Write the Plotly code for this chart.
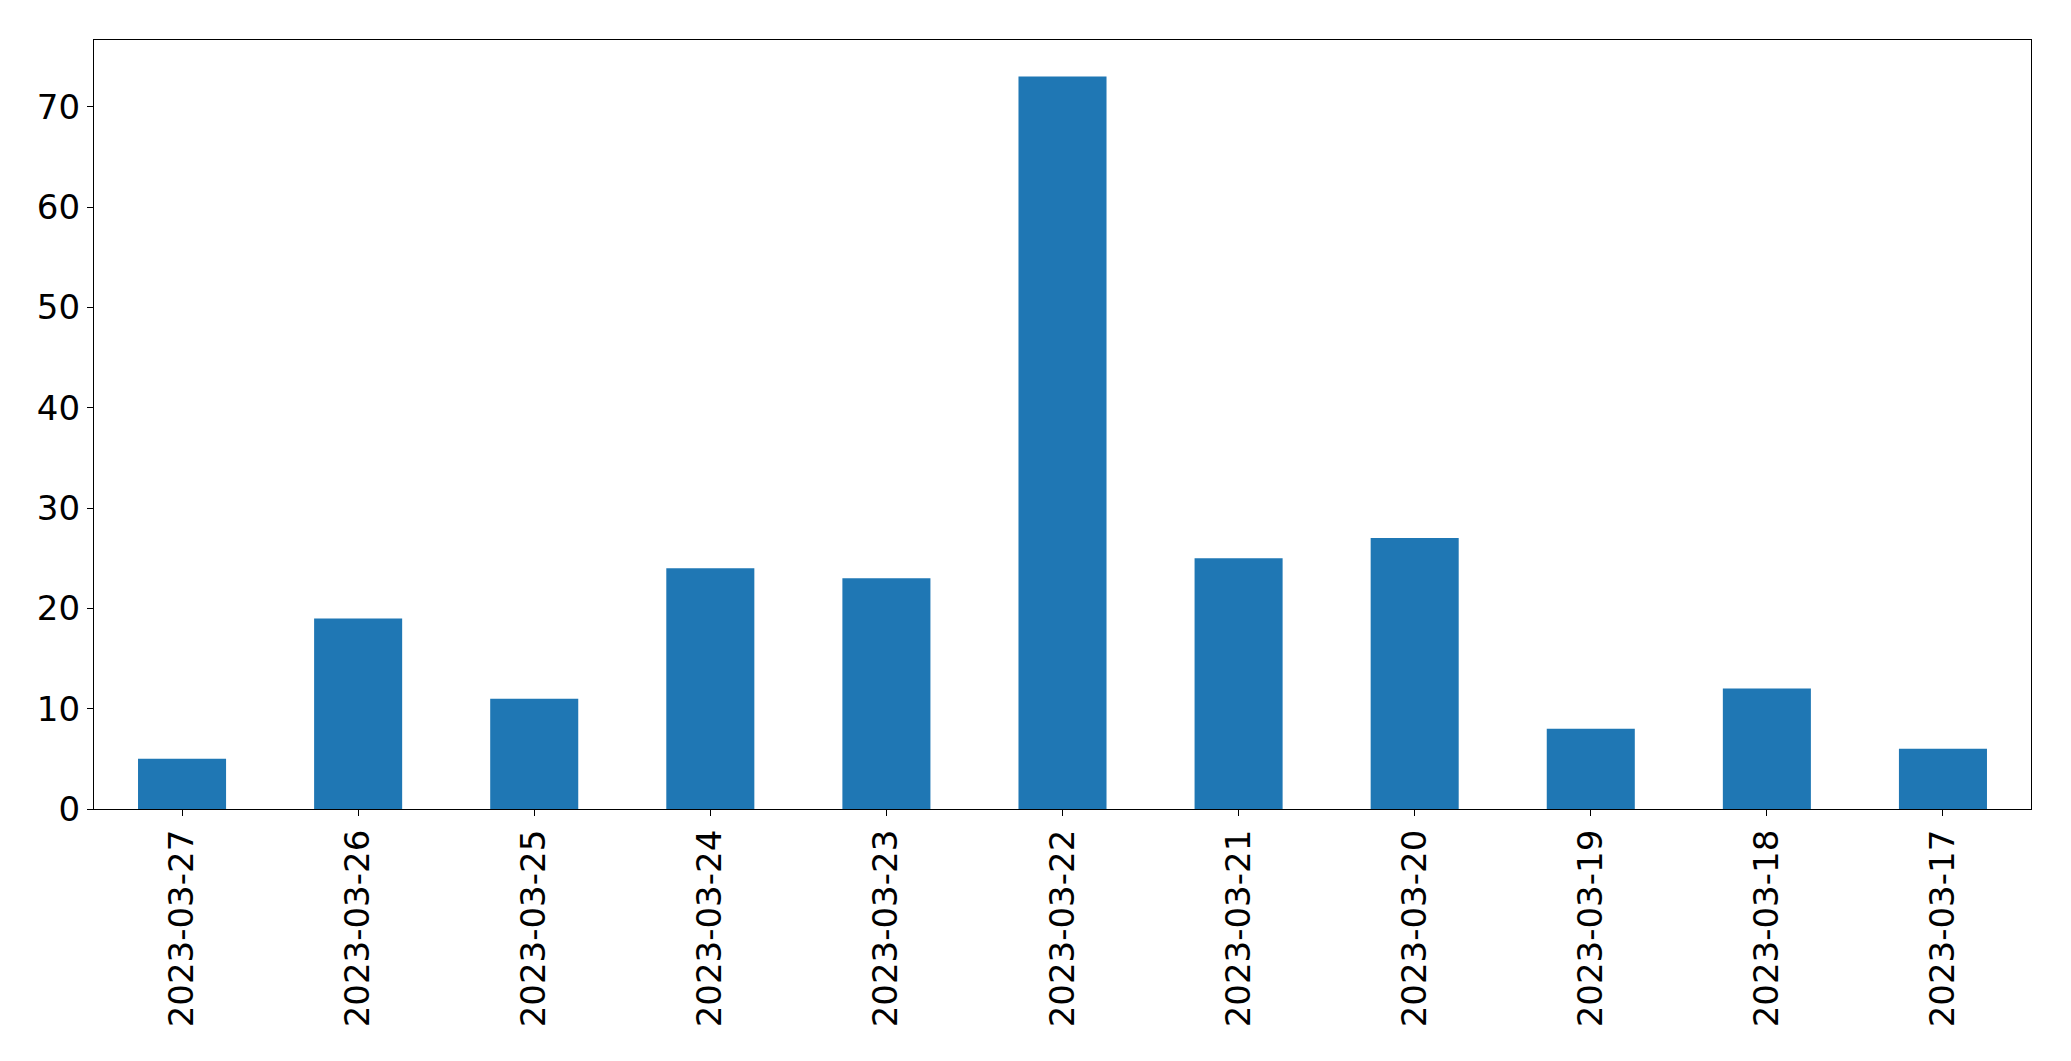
import plotly.graph_objects as go

dates = ["2023-03-27", "2023-03-26", "2023-03-25", "2023-03-24", "2023-03-23", "2023-03-22",
         "2023-03-21", "2023-03-20", "2023-03-19", "2023-03-18", "2023-03-17"]
counts = [5, 19, 11, 24, 23, 73, 25, 27, 8, 12, 6]
y_ticks = [0, 10, 20, 30, 40, 50, 60, 70]

fig = go.Figure(go.Bar(x=dates, y=counts, marker=dict(color="#1f77b4", line=dict(width=0))))

axis_common = dict(
    showline=True, mirror=True, linecolor="black", linewidth=1.3,
    ticks="outside", ticklen=6, tickwidth=1.3, tickcolor="black",
    showgrid=False, zeroline=False,
    tickfont=dict(family="DejaVu Sans", size=34, color="black"),
)

# page body has an 8px default margin, so the figure is 8px smaller and margins shifted
fig.update_layout(
    width=2063, height=1053,
    margin=dict(l=86, r=40, t=32, b=252),
    paper_bgcolor="white", plot_bgcolor="white",
    bargap=0.5, showlegend=False,
    xaxis=dict(type="category", range=[-0.5, len(dates) - 0.5], tickangle=-90,
               ticklabelstandoff=0, **axis_common),
    yaxis=dict(range=[0, max(counts) * 1.05], tickmode="array", tickvals=y_ticks,
               ticklabelstandoff=0, **axis_common),
)

fig.write_html("out.html")
